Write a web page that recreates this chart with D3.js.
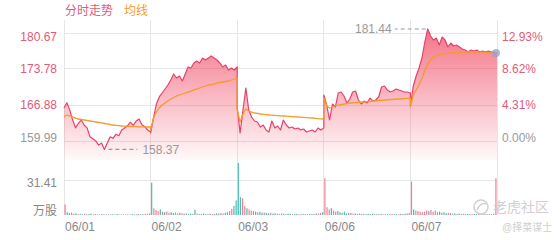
<!DOCTYPE html>
<html><head><meta charset="utf-8">
<script src="https://cdn.jsdelivr.net/npm/d3@7/dist/d3.min.js"></script>
<style>
html,body{margin:0;padding:0;background:#fff;}
svg{display:block;font-family:"Liberation Sans",Arial,"Noto Sans CJK SC",sans-serif;}
</style>
</head><body>
<svg id="c" width="560" height="240"></svg>
<script>
// ---------------- data ----------------
const days = ['06/01', '06/02', '06/03', '06/06', '06/07'];
const baseClose = 159.99;
const priceTicks = [159.99, 166.88, 173.78, 180.67];
const pctLabels = ['0.00%', '4.31%', '8.62%', '12.93%'];
const volTicks = [0, 31.41];
const volLabels = ['万股', '31.41'];
const legendLabels = ['分时走势', '均线'];

const price1 = [166.3, 167.3, 165.9, 164.0, 162.5, 163.4, 164.0, 163.0, 162.5, 160.8, 160.4, 160.0, 159.2, 159.6, 158.37, 159.6, 160.8, 160.5, 161.3, 161.0, 162.1, 162.5, 162.9, 163.6, 163.0, 163.8, 164.2, 163.1, 162.7, 162.1, 161.7];
const price2 = [161.52, 164.39, 167.07, 168.42, 169.18, 169.95, 170.71, 171.67, 172.82, 172.05, 172.44, 171.48, 172.82, 174.16, 173.97, 174.92, 175.31, 174.92, 175.88, 175.50, 175.88, 176.27, 175.88, 175.50, 174.92, 174.16, 174.54, 173.58, 173.97, 173.58, 174.16];
const price3 = [166.50, 161.52, 165.93, 170.14, 165.93, 164.59, 163.82, 163.63, 162.67, 163.05, 162.10, 161.71, 163.82, 162.48, 162.86, 162.10, 164.01, 163.05, 162.48, 162.67, 162.29, 162.48, 162.10, 162.29, 161.71, 161.90, 162.10, 161.71, 162.48, 162.10, 162.48];
const price4 = [168.80, 166.88, 164.01, 167.07, 166.50, 169.18, 169.37, 168.61, 167.27, 168.03, 169.37, 169.56, 167.84, 167.07, 167.65, 167.27, 168.22, 167.65, 167.84, 168.42, 170.33, 170.52, 169.76, 169.37, 169.56, 169.95, 169.76, 169.56, 169.37, 169.37, 169.18];
const price5 = [166.69, 170.52, 172.44, 173.97, 175.88, 178.95, 181.44, 180.10, 179.33, 179.71, 178.37, 179.90, 179.33, 177.99, 178.75, 178.18, 178.37, 177.99, 177.61, 177.41, 177.03, 177.41, 177.22, 177.41, 177.03, 177.22, 177.03, 177.22, 177.03, 177.03, 176.84];

const avg1 = [164.59, 164.97, 164.78, 164.59, 164.39, 164.20, 164.11, 164.01, 163.92, 163.82, 163.73, 163.63, 163.53, 163.44, 163.34, 163.25, 163.15, 163.05, 163.00, 162.94, 162.86, 162.82, 162.79, 162.77, 162.75, 162.73, 162.71, 162.69, 162.67, 162.67, 162.67];
const avg2 = [162.10, 164.39, 165.54, 166.31, 166.88, 167.27, 167.65, 168.03, 168.32, 168.61, 168.80, 168.99, 169.18, 169.37, 169.56, 169.76, 169.95, 170.14, 170.33, 170.52, 170.71, 170.81, 170.90, 171.10, 171.19, 171.29, 171.38, 171.48, 171.67, 171.86, 172.05];
const avg3 = [165.93, 163.63, 165.16, 166.12, 165.73, 165.54, 165.35, 165.26, 165.16, 165.10, 165.04, 164.97, 164.93, 164.89, 164.85, 164.82, 164.78, 164.74, 164.70, 164.66, 164.62, 164.59, 164.55, 164.51, 164.47, 164.43, 164.39, 164.34, 164.28, 164.24, 164.20];
const avg4 = [168.22, 166.69, 166.31, 166.50, 166.69, 166.88, 166.98, 167.07, 167.17, 167.27, 167.27, 167.36, 167.36, 167.46, 167.46, 167.55, 167.55, 167.65, 167.65, 167.75, 167.75, 167.84, 167.84, 167.94, 167.94, 168.03, 168.03, 168.07, 168.11, 168.15, 168.19];
const avg5 = [166.50, 168.80, 169.76, 170.71, 172.05, 173.39, 174.73, 175.50, 176.07, 176.36, 176.50, 176.59, 176.69, 176.76, 176.84, 176.90, 176.94, 176.97, 176.99, 177.01, 177.03, 177.03, 177.03, 177.03, 177.01, 176.99, 176.97, 176.94, 176.90, 176.86, 176.84];

const vol1 = [9.5, 2.5, 1.8, 2.2, 1.2, 1.5, 0.8, 1.0, 0.7, 1.2, 0.6, 0.9, 1.3, 0.5, 0.8, 0.6, 0.7, 1.0, 0.5, 0.6, 0.8, 0.5, 0.7, 0.6, 0.9, 0.5, 0.6, 0.8, 0.5, 0.7, 0.6, 0.8, 0.5, 0.7, 0.9, 0.6, 0.8, 1.0, 1.2, 1.5];
const vol2 = [29, 6, 4.5, 3.5, 5, 3, 2.5, 3.2, 2, 2.5, 1.8, 2.2, 1.5, 2.0, 1.6, 1.2, 1.5, 1.0, 1.3, 1.1, 4.8, 1.2, 0.9, 1.0, 1.4, 0.8, 1.0, 1.2, 0.9, 1.1, 1.5, 1.3, 1.8, 1.4, 2.0, 2.5, 3.5, 5.5, 8, 13];
const vol3 = [46.7, 16, 15, 8, 6, 5, 4, 3.5, 3, 2.5, 2.8, 2, 2.2, 1.8, 1.5, 2, 1.3, 1.6, 1.2, 1.0, 1.4, 1.1, 0.9, 1.2, 1.0, 0.8, 1.1, 0.9, 0.7, 1.0, 0.8, 0.9, 0.7, 1.1, 0.8, 1.0, 1.2, 1.4, 1.8, 2.5];
const vol4 = [33, 7, 5, 6, 4, 3, 3.5, 2.5, 2, 3, 1.5, 2, 1.8, 1.2, 1.5, 1, 1.3, 0.9, 1.1, 0.8, 1.0, 0.9, 1.2, 0.7, 0.9, 0.8, 1.0, 0.6, 0.8, 0.9, 0.7, 1.0, 0.8, 0.9, 0.7, 1.1, 0.9, 1.2, 1.5, 2.0];
const vol5 = [30, 5, 4, 3.5, 3, 2.5, 3, 4, 3.5, 4.5, 3, 4, 2.5, 3, 2, 2.5, 1.5, 2, 1.8, 1.2, 1.5, 1.0, 1.3, 0.9, 1.1, 0.8, 1.0, 0.9, 0.7, 1.0, 0.8, 0.9, 0.7, 0.8, 1.0, 0.6, 0.8, 0.9, 1.2, 33];
// u = up (red), d = down (green)
const volDir1 = 'udduddudduuddudduudduddudduuddudduudduuu';
const volDir2 = 'duuududuudduudududdudduudduduudduudduudd';
const volDir3 = 'dduuduuddudduddudduudduddudduuddudduduud';
const volDir4 = 'uuuduuddudduduudduuddudduddudduudduudduu';
const volDir5 = 'uduuuuuuduuuddudduudduddudduuddudduuduuu';

const prices = [price1, price2, price3, price4, price5];
const avgs = [avg1, avg2, avg3, avg4, avg5];
const vols = [vol1, vol2, vol3, vol4, vol5];
const volDirs = [volDir1, volDir2, volDir3, volDir4, volDir5];

// ---------------- layout ----------------
const W = 560, H = 240;
const left = 64, right = 497;
const priceTop = 20, priceBottom = 160;
const volBottom = 215;
const C = {
  line: '#e8406a', avg: '#f59a2c', grid: '#e6e6e6', red: '#e05a7a', gray: '#999',
  volUp: '#f07f95', volDown: '#45bfae'
};

const svg = d3.select('#c');
const x = d3.scaleLinear().domain([0, days.length]).range([left, right]);
const y = d3.scaleLinear().domain([priceTicks[0], priceTicks[3]]).range([141, 33]);
const vy = d3.scaleLinear().domain(volTicks).range([volBottom, 180]);

const defs = svg.append('defs');
const grad = defs.append('linearGradient').attr('id', 'g').attr('gradientUnits', 'userSpaceOnUse')
  .attr('x1', 0).attr('x2', 0).attr('y1', priceTop).attr('y2', priceBottom);
grad.append('stop').attr('offset', '0').attr('stop-color', 'rgb(240,70,96)').attr('stop-opacity', 0.8);
grad.append('stop').attr('offset', '1').attr('stop-color', 'rgb(240,70,96)').attr('stop-opacity', 0.03);

// grid
const g = svg.append('g');
g.selectAll('.hg').data(priceTicks).join('line')
  .attr('x1', left).attr('x2', right).attr('y1', d => y(d)).attr('y2', d => y(d))
  .attr('stroke', C.grid).attr('stroke-width', 1).attr('shape-rendering', 'crispEdges');
g.append('line').attr('x1', left).attr('x2', right).attr('y1', vy(volTicks[1])).attr('y2', vy(volTicks[1]))
  .attr('stroke', C.grid).attr('shape-rendering', 'crispEdges');
g.selectAll('.vg').data(d3.range(days.length + 1)).join('line')
  .attr('x1', d => x(d)).attr('x2', d => x(d)).attr('y1', priceTop).attr('y2', volBottom)
  .attr('stroke', C.grid).attr('shape-rendering', 'crispEdges');

// points
const pts = [];
prices.forEach((arr, di) => arr.forEach((p, i) => pts.push({ t: di + i / (arr.length - 1), p, a: avgs[di][i] })));

svg.append('path').datum(pts)
  .attr('d', d3.area().x(d => x(d.t)).y0(priceBottom).y1(d => y(d.p)))
  .attr('fill', 'url(#g)');
svg.append('path').datum(pts)
  .attr('d', d3.line().x(d => x(d.t)).y(d => y(d.p)))
  .attr('fill', 'none').attr('stroke', C.line).attr('stroke-width', 1.2).attr('stroke-linejoin', 'round');
svg.append('path').datum(pts)
  .attr('d', d3.line().x(d => x(d.t)).y(d => y(d.a)))
  .attr('fill', 'none').attr('stroke', C.avg).attr('stroke-width', 1.3).attr('stroke-linejoin', 'round');

// volume
const vbars = [];
vols.forEach((arr, di) => arr.forEach((v, i) => vbars.push({ t: di + (i + 0.5) / arr.length, v, up: volDirs[di][i] !== 'd' })));
svg.append('g').selectAll('rect').data(vbars).join('rect')
  .attr('x', d => x(d.t) - 0.6).attr('width', 1.2)
  .attr('y', d => vy(d.v)).attr('height', d => vy(0) - vy(d.v))
  .attr('fill', d => d.up ? C.volUp : C.volDown);

// max / min markers
const maxPt = pts.reduce((a, b) => b.p > a.p ? b : a);
const minPt = pts.reduce((a, b) => b.p < a.p ? b : a);
svg.append('line').attr('x1', x(maxPt.t) - 2).attr('x2', x(maxPt.t) - 33).attr('y1', y(maxPt.p)).attr('y2', y(maxPt.p))
  .attr('stroke', '#999').attr('stroke-dasharray', '4,3').attr('stroke-width', 1.2);
svg.append('text').attr('x', x(maxPt.t) - 36).attr('y', y(maxPt.p)).attr('dy', '0.35em')
  .attr('text-anchor', 'end').attr('font-size', 12).attr('fill', '#999').text(maxPt.p.toFixed(2));
svg.append('line').attr('x1', x(minPt.t) + 4).attr('x2', x(minPt.t) + 33).attr('y1', y(minPt.p)).attr('y2', y(minPt.p))
  .attr('stroke', '#999').attr('stroke-dasharray', '4,3').attr('stroke-width', 1.2);
svg.append('text').attr('x', x(minPt.t) + 38).attr('y', y(minPt.p)).attr('dy', '0.35em')
  .attr('font-size', 12).attr('fill', '#999').text(minPt.p.toFixed(2));

// end dot
const last = pts[pts.length - 1];
svg.append('circle').attr('cx', x(last.t) - 1).attr('cy', y(last.p)).attr('r', 4)
  .attr('fill', 'rgba(150,160,210,0.75)');

// axis labels
const shift = i => i === 0 ? -3 : (i === priceTicks.length - 1 ? 4 : 0);
svg.append('g').selectAll('text').data(priceTicks).join('text')
  .attr('x', 57).attr('y', (d, i) => y(d) + shift(i)).attr('dy', '0.35em').attr('text-anchor', 'end')
  .attr('font-size', 12).attr('fill', (d, i) => i === 0 ? C.gray : C.red).text(d => d.toFixed(2));
svg.append('g').selectAll('text').data(pctLabels).join('text')
  .attr('x', 502).attr('y', (d, i) => y(priceTicks[i]) + shift(i)).attr('dy', '0.35em')
  .attr('font-size', 12).attr('fill', (d, i) => i === 0 ? C.gray : C.red).text(d => d);
svg.append('g').selectAll('text').data(volTicks).join('text')
  .attr('x', 57).attr('y', (d, i) => vy(d) + (i === 0 ? -4 : 3)).attr('dy', '0.35em').attr('text-anchor', 'end')
  .attr('font-size', 12).attr('fill', '#888').text((d, i) => volLabels[i]);
svg.append('g').selectAll('text').data(days).join('text')
  .attr('x', (d, i) => x(i) + 1).attr('y', 227).attr('dy', '0.35em')
  .attr('font-size', 12).attr('fill', '#888').text(d => d);

// legend
svg.append('text').attr('x', 65).attr('y', 11).attr('dy', '0.35em').attr('font-size', 12)
  .attr('fill', C.red).text(legendLabels[0]);
svg.append('text').attr('x', 124).attr('y', 11).attr('dy', '0.35em').attr('font-size', 12)
  .attr('fill', C.avg).text(legendLabels[1]);

// watermark
const wm = svg.append('g').attr('fill', '#cfcfcf');
wm.append('circle').attr('cx', 481).attr('cy', 207).attr('r', 7).attr('fill', 'none').attr('stroke', '#d0d0d0').attr('stroke-width', 1.5);
wm.append('path').attr('d', 'M477,210 Q481,202 486,204').attr('fill', 'none').attr('stroke', '#d0d0d0').attr('stroke-width', 1.5);
wm.append('text').attr('x', 493).attr('y', 207).attr('dy', '0.35em').attr('font-size', 14).text('老虎社区');
wm.append('text').attr('x', 502).attr('y', 227).attr('dy', '0.35em').attr('font-size', 10).text('@择菜谋士');
</script>
</body></html>
